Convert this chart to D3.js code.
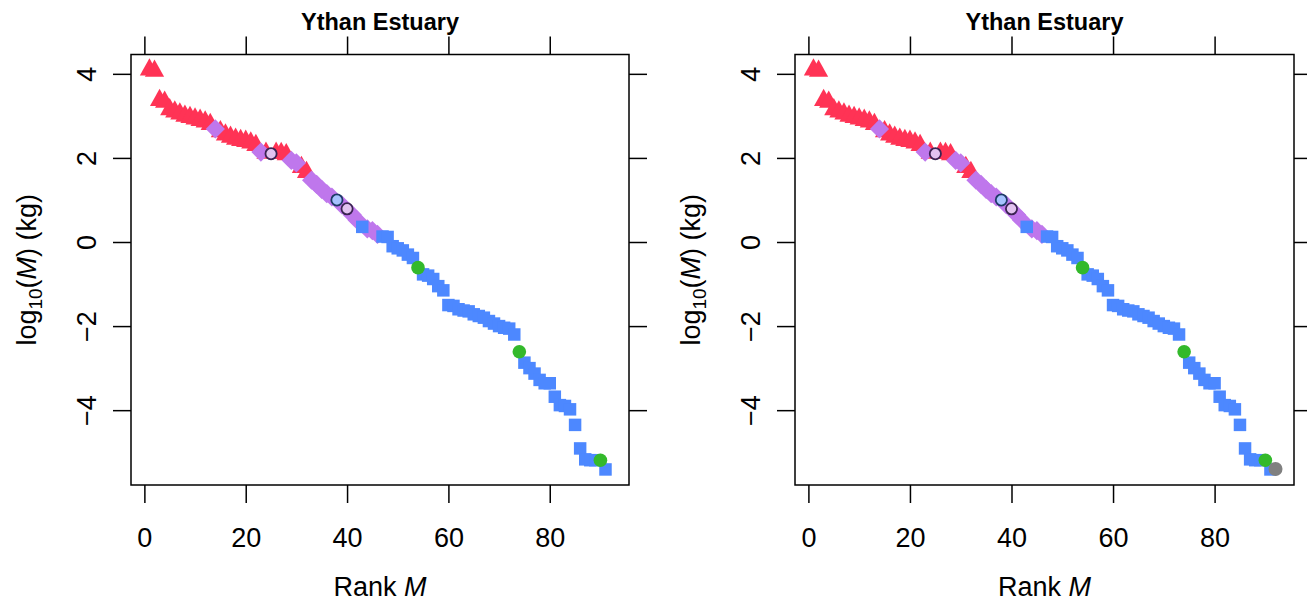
<!DOCTYPE html>
<html><head><meta charset="utf-8">
<script src="https://cdn.jsdelivr.net/npm/d3@7"></script>
<style>
html,body{margin:0;padding:0;background:#fff;}
text{font-family:"Liberation Sans",Arial,Helvetica,sans-serif;}
</style></head>
<body>
<svg id="chart" width="1307" height="602"></svg>
<script>
// ---------- data ----------
const ranks = [1,2,3,4,5,6,7,8,9,10,11,12,13,14,15,16,17,18,19,20,21,22,23,24,25,26,27,28,29,30,
  31,32,33,34,35,36,37,38,39,40,41,42,43,44,45,46,47,48,49,50,51,52,53,54,55,56,57,58,59,60,
  61,62,63,64,65,66,67,68,69,70,71,72,73,74,75,76,77,78,79,80,81,82,83,84,85,86,87,88,89,90,91];
const logMass = [4.10,4.07,3.37,3.33,3.15,3.10,3.05,3.00,2.97,2.93,2.90,2.86,2.80,2.69,2.63,2.55,2.50,2.45,2.42,2.40,
  2.36,2.30,2.14,2.12,2.10,2.12,2.11,2.08,1.94,1.88,1.78,1.66,1.47,1.37,1.25,1.15,1.07,1.00,0.88,0.79,
  0.65,0.52,0.36,0.31,0.27,0.18,0.13,0.12,-0.10,-0.15,-0.20,-0.30,-0.38,-0.61,-0.77,-0.80,-0.88,-1.05,-1.15,-1.50,
  -1.52,-1.60,-1.63,-1.65,-1.72,-1.76,-1.80,-1.88,-1.94,-2.00,-2.04,-2.06,-2.20,-2.61,-2.87,-3.00,-3.13,-3.28,-3.36,-3.36,
  -3.68,-3.88,-3.90,-3.98,-4.35,-4.91,-5.17,-5.19,-5.19,-5.19,-5.41];
const groups = ["T","T","T","T","T","T","T","T","T","T","T","T","T","D","T","T","T","T","T","T",
  "T","T","D","T","P","T","T","T","D","D","T","T","D","D","D","D","D","B","D","P",
  "D","D","S","D","D","D","S","S","S","S","S","S","S","G","S","S","S","S","S","S",
  "S","S","S","S","S","S","S","S","S","S","S","S","S","G","S","S","S","S","S","S",
  "S","S","S","S","S","S","S","S","S","G","S"];
// extra species shown only in the right panel
const extraRanks = [92];
const extraLogMass = [-5.40];
const extraGroups = ["X"];

const xTicks = [0,20,40,60,80];
const yTicks = [-4,-2,0,2,4];
const titleText = "Ythan Estuary";

// ---------- styling ----------
const fillOf = {T:"#FF3355", D:"#BF77EC", S:"#4D88FF", G:"#33B92B", P:"#E2C2F0", B:"#A6C2FF", X:"#808080"};
const strokeOf = {P:"#3B2352", B:"#1D3A66"};
const drawOrder = ["T","D","S","G","P","B","X"];

const svg = d3.select("#chart");
const W = 1307, H = 602;
svg.append("rect").attr("width",W).attr("height",H).attr("fill","#fff");

const panels = [
  {x0:131, x1:629, extra:false},
  {x0:795, x1:1294, extra:true}
];
const yTop = 54.5, yBot = 485;
const tickLen = 18;
const FS = 27;

function triPath(){ // R-style filled triangle, centered on circumcentre
  const r = 11.5, hw = 9.6, b = 5.8;
  return `M0,${-r}L${hw},${b}L${-hw},${b}Z`;
}
function diamondPath(){
  const a = 9.6;
  return `M0,${-a}L${a},0L0,${a}L${-a},0Z`;
}

panels.forEach(p => {
  const x = d3.scaleLinear().domain([-2.64, 95.64]).range([p.x0, p.x1]);
  const y = d3.scaleLinear().domain([-5.78, 4.46]).range([yBot, yTop]);
  const g = svg.append("g");

  // axes (ticks on all four sides)
  const axB = g.append("g").attr("transform",`translate(0,${yBot})`)
    .call(d3.axisBottom(x).tickValues(xTicks).tickSizeInner(tickLen).tickSizeOuter(0).tickFormat(d3.format("d")));
  const axT = g.append("g").attr("transform",`translate(0,${yTop})`)
    .call(d3.axisTop(x).tickValues(xTicks).tickSizeInner(tickLen).tickSizeOuter(0).tickFormat(""));
  const axL = g.append("g").attr("transform",`translate(${p.x0},0)`)
    .call(d3.axisLeft(y).tickValues(yTicks).tickSizeInner(tickLen).tickSizeOuter(0).tickFormat(d => d < 0 ? "\u2212" + Math.abs(d) : d));
  const axR = g.append("g").attr("transform",`translate(${p.x1},0)`)
    .call(d3.axisRight(y).tickValues(yTicks).tickSizeInner(tickLen).tickSizeOuter(0).tickFormat(""));
  [axB,axT,axL,axR].forEach(a => {
    a.select(".domain").remove();
    a.selectAll("line").attr("stroke","#000").attr("stroke-width",1.5);
  });
  axB.selectAll("text").attr("y", 62).attr("dy", null)
    .attr("font-size", FS).attr("fill","#000")
    .style("font-family","'Liberation Sans',Arial,sans-serif");
  axL.selectAll("text").attr("x", null).attr("dy", null)
    .attr("text-anchor","middle")
    .attr("transform","translate(-35,0) rotate(-90)")
    .attr("font-size", FS).attr("fill","#000")
    .style("font-family","'Liberation Sans',Arial,sans-serif");

  // frame
  g.append("rect").attr("x",p.x0).attr("y",yTop).attr("width",p.x1-p.x0).attr("height",yBot-yTop)
    .attr("fill","none").attr("stroke","#000").attr("stroke-width",1.5);

  // title
  g.append("text").attr("x",(p.x0+p.x1)/2).attr("y",30).attr("text-anchor","middle")
    .attr("font-size",23.5).attr("font-weight","bold").attr("fill","#000").text(titleText);

  // x label
  const xl = g.append("text").attr("x",(p.x0+p.x1)/2).attr("y",596).attr("text-anchor","middle")
    .attr("font-size",FS).attr("fill","#000");
  xl.append("tspan").text("Rank ");
  xl.append("tspan").attr("font-style","italic").text("M");

  // y label
  const yl = g.append("text").attr("transform",`translate(${p.x0-95},${(yTop+yBot)/2}) rotate(-90)`)
    .attr("text-anchor","middle").attr("font-size",FS).attr("fill","#000");
  yl.append("tspan").text("log");
  yl.append("tspan").attr("font-size",19).attr("dy",6).text("10");
  yl.append("tspan").attr("dy",-6).text("(");
  yl.append("tspan").attr("font-style","italic").text("M");
  yl.append("tspan").text(") (kg)");

  // points
  let pts = ranks.map((r,i) => ({r, v: logMass[i], g: groups[i]}));
  if (p.extra) pts = pts.concat(extraRanks.map((r,i) => ({r, v: extraLogMass[i], g: extraGroups[i]})));
  const mg = g.append("g");
  drawOrder.forEach(k => {
    const sub = pts.filter(d => d.g === k);
    if (k === "T" || k === "D" || k === "S") {
      mg.selectAll(null).data(sub).enter().append("path")
        .attr("transform", d => `translate(${x(d.r)},${y(d.v)})`)
        .attr("d", k === "T" ? triPath() : k === "D" ? diamondPath()
          : d3.symbol().type(d3.symbolSquare).size(156)())
        .attr("fill", fillOf[k]);
    } else {
      mg.selectAll(null).data(sub).enter().append("circle")
        .attr("cx", d => x(d.r)).attr("cy", d => y(d.v))
        .attr("r", (k === "P" || k === "B") ? 5.6 : (k === "X" ? 7 : 6.8))
        .attr("fill", fillOf[k])
        .attr("stroke", strokeOf[k] || "none")
        .attr("stroke-width", strokeOf[k] ? 1.8 : 0);
    }
  });
});
</script>
</body></html>
